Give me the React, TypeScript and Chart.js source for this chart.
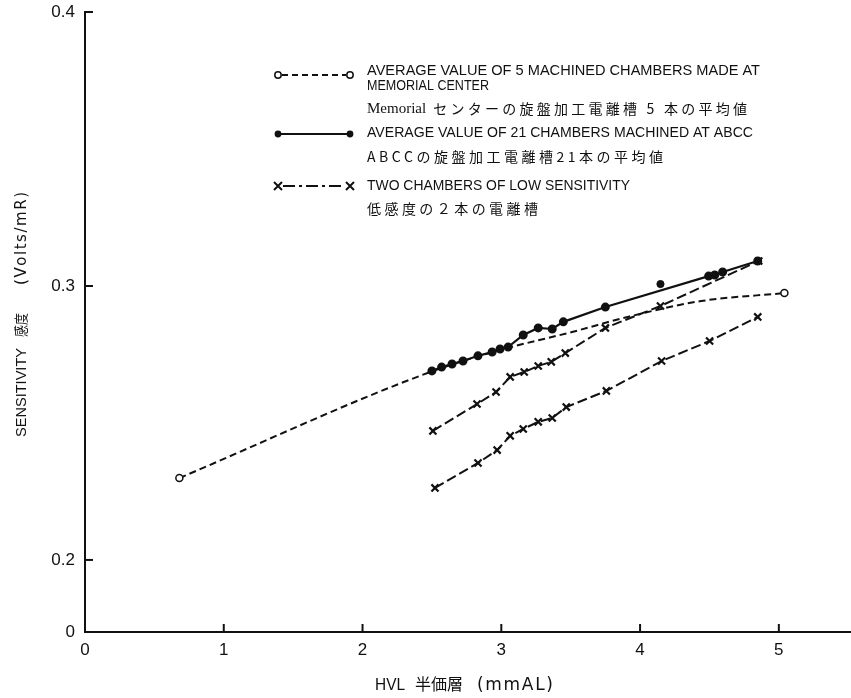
import React, { useEffect, useRef } from "react";
import { Chart, registerables } from "chart.js";
Chart.register(...registerables);

// ---- data ----
const memorialX = [0.68, 2.51, 3.05, 3.51, 3.91, 4.44, 5.04];
const memorialY = [0.2299, 0.269, 0.2774, 0.2832, 0.2887, 0.2945, 0.2974];

const abccX = [2.5, 2.57, 2.645, 2.724, 2.832, 2.934, 2.991, 3.049, 3.158, 3.266, 3.367, 3.447, 3.75, 4.494, 4.538, 4.595, 4.848];
const abccY = [0.269, 0.2704, 0.2715, 0.2726, 0.2745, 0.2759, 0.277, 0.2777, 0.2821, 0.2847, 0.2843, 0.2869, 0.2923, 0.3036, 0.304, 0.3051, 0.3091];
const abccOutlierX = [4.147];
const abccOutlierY = [0.3007];

const lowAX = [2.507, 2.825, 2.962, 3.064, 3.165, 3.266, 3.36, 3.461, 3.75, 4.147, 4.855];
const lowAY = [0.2471, 0.2569, 0.2613, 0.2668, 0.2686, 0.2708, 0.2723, 0.2755, 0.2847, 0.2927, 0.3091];
const lowBX = [2.522, 2.832, 2.97, 3.064, 3.158, 3.266, 3.367, 3.468, 3.757, 4.155, 4.501, 4.848];
const lowBY = [0.2263, 0.2354, 0.2401, 0.2453, 0.2478, 0.2504, 0.2518, 0.2558, 0.2617, 0.2726, 0.2799, 0.2887];

const xTickValues = [0, 1, 2, 3, 4, 5];
const yTickValues = [0.2, 0.3, 0.4];
const yBottomValue = 0.1737;
const yBottomLabel = "0";
const xMax = 5.52;
const yMax = 0.4;

const legendTexts = [
  "AVERAGE VALUE OF 5 MACHINED CHAMBERS MADE AT",
  "MEMORIAL CENTER",
  "Memorial",
  "センターの旋盤加工電離槽 5 本の平均値",
  "AVERAGE VALUE OF 21 CHAMBERS MACHINED AT ABCC",
  "ABCCの旋盤加工電離槽21本の平均値",
  "TWO CHAMBERS OF LOW SENSITIVITY",
  "低感度の２本の電離槽",
];
const yTitleParts = ["SENSITIVITY", "感度", "(Volts/mR)"];
const xTitleParts = ["HVL", "半価層", "(mmAL)"];

const INK = "#111";
const SANS = '"Liberation Sans", "Noto Sans CJK JP", sans-serif';
const WIDE = '"DejaVu Sans", "Noto Sans CJK JP", sans-serif';
const JP = '"Noto Sans CJK JP", "Liberation Serif", serif';

function pts(xs: number[], ys: number[]) {
  return xs.map((x, i) => ({ x, y: ys[i] }));
}

function drawFit(ctx: CanvasRenderingContext2D, text: string, x: number, y: number, width: number, font: string) {
  ctx.font = font;
  const chars = Array.from(text);
  const natural = ctx.measureText(text).width;
  if (natural >= width || chars.length < 2) {
    ctx.fillText(text, x, y, width);
    return;
  }
  let sum = 0;
  for (const ch of chars) sum += ctx.measureText(ch).width;
  const extra = (width - sum) / (chars.length - 1);
  let cx = x;
  for (const ch of chars) {
    ctx.fillText(ch, cx, y);
    cx += ctx.measureText(ch).width + extra;
  }
}

function drawX(ctx: CanvasRenderingContext2D, x: number, y: number, r: number) {
  ctx.beginPath();
  ctx.moveTo(x - r, y - r);
  ctx.lineTo(x + r, y + r);
  ctx.moveTo(x + r, y - r);
  ctx.lineTo(x - r, y + r);
  ctx.stroke();
}

const decorPlugin = {
  id: "decor",
  beforeDraw(chart: any) {
    const ctx = chart.ctx;
    ctx.save();
    ctx.fillStyle = "#fff";
    ctx.fillRect(0, 0, chart.width, chart.height);
    ctx.restore();
  },
  afterDraw(chart: any) {
    const ctx: CanvasRenderingContext2D = chart.ctx;
    const { left, bottom } = chart.chartArea;
    const xs = chart.scales.x;
    const ys = chart.scales.y;
    ctx.save();
    ctx.strokeStyle = INK;
    ctx.fillStyle = INK;
    ctx.lineWidth = 2;
    // inward tick marks
    for (const v of yTickValues) {
      const py = ys.getPixelForValue(v);
      ctx.beginPath();
      ctx.moveTo(left, py);
      ctx.lineTo(left + 8, py);
      ctx.stroke();
    }
    for (const v of xTickValues) {
      if (v === 0) continue;
      const px = xs.getPixelForValue(v);
      ctx.beginPath();
      ctx.moveTo(px, bottom);
      ctx.lineTo(px, bottom - 8);
      ctx.stroke();
    }

    // legend samples
    const sx0 = 278, sx1 = 350;
    ctx.lineWidth = 1.8;
    ctx.setLineDash([6, 4]);
    ctx.beginPath(); ctx.moveTo(sx0 + 4, 75); ctx.lineTo(sx1 - 4, 75); ctx.stroke();
    ctx.setLineDash([]);
    ctx.lineWidth = 1.5;
    for (const px of [sx0, sx1]) {
      ctx.beginPath(); ctx.arc(px, 75, 3.2, 0, Math.PI * 2);
      ctx.fillStyle = "#fff"; ctx.fill(); ctx.stroke();
    }
    ctx.fillStyle = INK;
    ctx.lineWidth = 2;
    ctx.beginPath(); ctx.moveTo(sx0, 134); ctx.lineTo(sx1, 134); ctx.stroke();
    for (const px of [sx0, sx1]) {
      ctx.beginPath(); ctx.arc(px, 134, 3.4, 0, Math.PI * 2); ctx.fill();
    }
    ctx.setLineDash([12, 4, 3, 4]);
    ctx.beginPath(); ctx.moveTo(sx0 + 5, 186); ctx.lineTo(sx1 - 5, 186); ctx.stroke();
    ctx.setLineDash([]);
    drawX(ctx, sx0, 186, 4);
    drawX(ctx, sx1, 186, 4);

    // legend texts
    ctx.textBaseline = "middle";
    ctx.textAlign = "left";
    const tx = 367;
    drawFit(ctx, legendTexts[0], tx, 71, 393, `15px ${SANS}`);
    drawFit(ctx, legendTexts[1], tx, 86, 122, `15px ${SANS}`);
    ctx.font = `15px "Liberation Serif", serif`;
    const mw = ctx.measureText(legendTexts[2]).width;
    ctx.fillText(legendTexts[2], tx, 109);
    drawFit(ctx, legendTexts[3], tx + mw + 7, 109, 747 - (tx + mw + 7), `14px ${JP}`);
    drawFit(ctx, legendTexts[4], tx, 133, 386, `15px ${SANS}`);
    drawFit(ctx, legendTexts[5], tx, 157, 296, `14px ${JP}`);
    drawFit(ctx, legendTexts[6], tx, 186, 263, `15px ${SANS}`);
    drawFit(ctx, legendTexts[7], tx, 209, 171, `14px ${JP}`);

    // x title
    drawFit(ctx, xTitleParts[0], 375, 686, 30, `16px ${SANS}`);
    drawFit(ctx, xTitleParts[1], 415, 686, 48, `16px ${SANS}`);
    drawFit(ctx, xTitleParts[2], 477, 686, 76, `17px ${WIDE}`);

    // y title (rotated)
    ctx.translate(22, 0);
    ctx.rotate(-Math.PI / 2);
    drawFit(ctx, yTitleParts[0], -437, 0, 89, `15px ${SANS}`);
    drawFit(ctx, yTitleParts[1], -337, 0, 24, `14px ${SANS}`);
    drawFit(ctx, yTitleParts[2], -285, 0, 93, `15px ${WIDE}`);
    ctx.restore();
  },
};

export default function App() {
  const ref = useRef<HTMLCanvasElement>(null);
  useEffect(() => {
    if (!ref.current) return;
    const chart = new Chart(ref.current, {
      type: "scatter",
      data: {
        datasets: [
          {
            label: "Memorial",
            data: pts(memorialX, memorialY),
            showLine: true,
            borderColor: INK,
            borderWidth: 2,
            borderDash: [7, 4],
            cubicInterpolationMode: "monotone",
            pointRadius: memorialX.map((_, i) => (i === 0 || i === memorialX.length - 1 ? 3.5 : 0)),
            pointBackgroundColor: "#fff",
            pointBorderColor: INK,
            pointBorderWidth: 1.5,
          },
          {
            label: "Low A",
            data: pts(lowAX, lowAY),
            showLine: true,
            borderColor: INK,
            borderWidth: 2,
            borderDash: [10, 4],
            pointStyle: "crossRot",
            pointRadius: 5,
            pointBorderColor: INK,
            pointBorderWidth: 2.2,
          },
          {
            label: "Low B",
            data: pts(lowBX, lowBY),
            showLine: true,
            borderColor: INK,
            borderWidth: 2,
            borderDash: [10, 4],
            pointStyle: "crossRot",
            pointRadius: 5,
            pointBorderColor: INK,
            pointBorderWidth: 2.2,
          },
          {
            label: "ABCC",
            data: pts(abccX, abccY),
            showLine: true,
            borderColor: INK,
            borderWidth: 2.2,
            pointRadius: 3.4,
            pointBackgroundColor: INK,
            pointBorderColor: INK,
          },
          {
            label: "ABCC outlier",
            data: pts(abccOutlierX, abccOutlierY),
            showLine: false,
            pointRadius: 3.6,
            pointBackgroundColor: INK,
            pointBorderColor: INK,
          },
        ],
      },
      options: {
        animation: false,
        responsive: false,
        layout: { autoPadding: false, padding: { top: 12, left: 0, right: 0, bottom: 0 } },
        plugins: { legend: { display: false }, tooltip: { enabled: false }, title: { display: false } },
        scales: {
          x: {
            type: "linear",
            min: 0,
            max: xMax,
            afterBuildTicks: (s: any) => {
              s.ticks = xTickValues.map((v) => ({ value: v }));
            },
            afterFit: (s: any) => {
              s.height = 66;
              s.paddingLeft = 0;
              s.paddingRight = 0;
            },
            ticks: {
              color: INK,
              font: { family: SANS, size: 17 },
              padding: 8,
              callback: (v: any) => String(v),
            },
            grid: { display: false, drawTicks: false },
            border: { display: true, color: INK, width: 2 },
          },
          y: {
            type: "linear",
            min: yBottomValue,
            max: yMax,
            afterBuildTicks: (s: any) => {
              s.ticks = [yBottomValue, ...yTickValues].map((v) => ({ value: v }));
            },
            afterFit: (s: any) => {
              s.width = 85;
              s.paddingTop = 0;
              s.paddingBottom = 0;
            },
            ticks: {
              color: INK,
              font: { family: SANS, size: 17 },
              padding: 10,
              callback: (v: any) => (v < 0.19 ? yBottomLabel : Number(v).toFixed(1)),
            },
            grid: { display: false, drawTicks: false },
            border: { display: true, color: INK, width: 2 },
          },
        },
      },
      plugins: [decorPlugin],
    });
    return () => chart.destroy();
  }, []);
  return (
    <div style={{ position: "absolute", left: 0, top: 0, width: 851, height: 698, background: "#fff" }}>
      <canvas ref={ref} width={851} height={698} style={{ display: "block" }} />
    </div>
  );
}
